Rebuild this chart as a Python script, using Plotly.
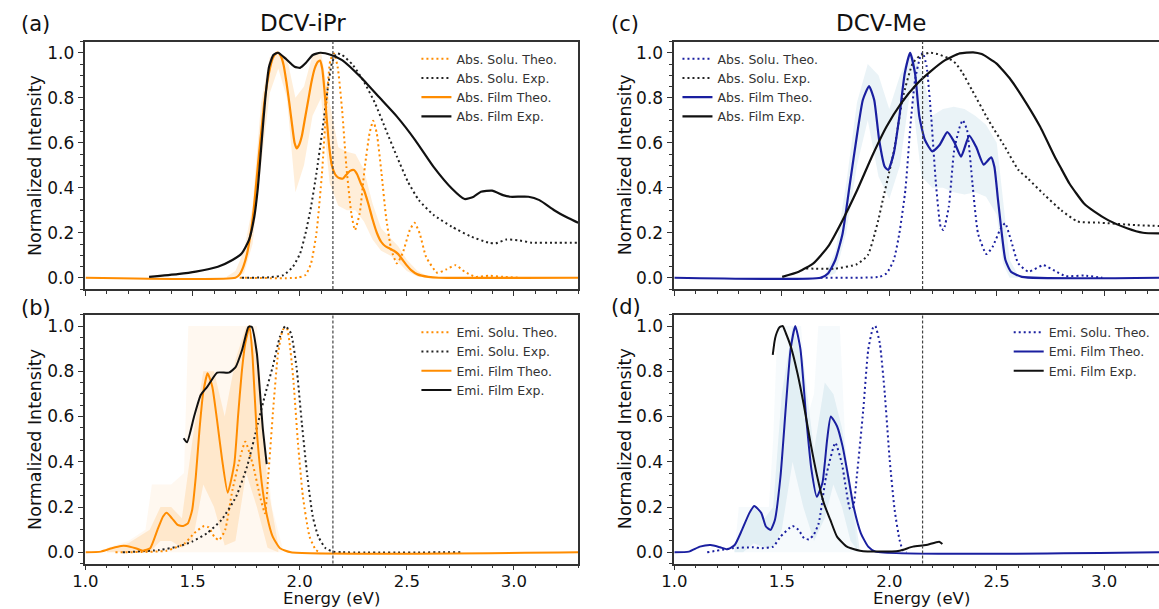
import plotly.graph_objects as go

W, H = 1159, 609
ORANGE = "#ff8c00"
BLUE = "#1a1fa0"
BLACK = "#111111"
FONT = "DejaVu Sans"

# ---------------- DCV-iPr : absorption (a) ----------------
a_solu_theo_x = [1.72, 1.99, 2.027, 2.053, 2.078, 2.104, 2.126, 2.143, 2.16, 2.177, 2.198, 2.218, 2.241, 2.258,
                 2.28, 2.304, 2.326, 2.343, 2.36, 2.382, 2.403, 2.428, 2.454, 2.48, 2.514, 2.536, 2.56, 2.59,
                 2.642, 2.684, 2.727, 2.77, 2.821, 2.881, 2.949, 3.02]
a_solu_theo_y = [0.0, 0.0, 0.012, 0.064, 0.197, 0.464, 0.79, 0.967, 0.997, 0.938, 0.745, 0.493, 0.286, 0.212,
                 0.286, 0.493, 0.641, 0.698, 0.641, 0.464, 0.271, 0.123, 0.064, 0.108, 0.212, 0.244, 0.197, 0.093,
                 0.022, 0.037, 0.056, 0.027, 0.004, 0.009, 0.004, 0.0]

a_solu_exp_x = [1.73, 1.857, 1.925, 1.968, 2.002, 2.027, 2.053, 2.078, 2.104, 2.13, 2.15, 2.172, 2.198, 2.249,
                2.3, 2.352, 2.403, 2.454, 2.505, 2.556, 2.625, 2.71, 2.795, 2.881, 2.915, 2.966, 3.017, 3.085,
                3.188, 3.3]
a_solu_exp_y = [0.0, 0.002, 0.012, 0.049, 0.108, 0.197, 0.316, 0.464, 0.641, 0.834, 0.953, 0.997, 0.99, 0.945,
                0.871, 0.775, 0.656, 0.538, 0.427, 0.345, 0.279, 0.227, 0.185, 0.156, 0.153, 0.17, 0.167, 0.156,
                0.156, 0.156]

a_film_theo_x = [1.0, 1.70, 1.72, 1.737, 1.755, 1.771, 1.785, 1.797, 1.81, 1.823, 1.835, 1.848, 1.861, 1.874,
                 1.887, 1.899, 1.912, 1.925, 1.938, 1.951, 1.963, 1.976, 1.986, 1.997, 2.01, 2.025, 2.04, 2.055,
                 2.07, 2.085, 2.095, 2.105, 2.115, 2.125, 2.138, 2.15, 2.165, 2.18, 2.2, 2.215, 2.235, 2.253,
                 2.268, 2.285, 2.3, 2.32, 2.34, 2.36, 2.38, 2.4, 2.42, 2.44, 2.46, 2.48, 2.5, 2.52, 2.55, 2.6,
                 2.65, 3.3]
a_film_theo_y = [0.0, 0.0, 0.015, 0.049, 0.11, 0.197, 0.3, 0.419, 0.55, 0.671, 0.78, 0.864, 0.93, 0.975,
                 0.995, 1.0, 0.985, 0.945, 0.87, 0.78, 0.69, 0.6, 0.575, 0.59, 0.63, 0.71, 0.79, 0.87,
                 0.93, 0.96, 0.965, 0.93, 0.84, 0.72, 0.58, 0.5, 0.46, 0.445, 0.44, 0.455, 0.475, 0.479,
                 0.46, 0.42, 0.39, 0.33, 0.26, 0.2, 0.16, 0.14, 0.13, 0.12, 0.105, 0.08, 0.055, 0.034, 0.015, 0.004,
                 0.0, 0.0]

a_film_exp_x = [1.297, 1.43, 1.515, 1.618, 1.686, 1.729, 1.763, 1.788, 1.805, 1.823, 1.84, 1.857, 1.877, 1.899,
                1.933, 1.976, 2.002, 2.027, 2.061, 2.096, 2.147, 2.198, 2.283, 2.369, 2.454, 2.539, 2.625, 2.71,
                2.77, 2.812, 2.846, 2.898, 2.949, 2.983, 3.068, 3.119, 3.188, 3.256, 3.3]
a_film_exp_y = [0.004, 0.016, 0.027, 0.049, 0.079, 0.108, 0.167, 0.271, 0.404, 0.612, 0.804, 0.938, 0.99, 1.0,
                0.975, 0.938, 0.933, 0.953, 0.99, 1.0, 0.99, 0.967, 0.893, 0.804, 0.716, 0.612, 0.493, 0.397,
                0.35, 0.36, 0.382, 0.387, 0.367, 0.36, 0.36, 0.345, 0.3, 0.264, 0.244]

# spread of the film ensemble (a)
a_band_x = [1.66, 1.70, 1.74, 1.78, 1.82, 1.86, 1.90, 1.94, 1.98, 2.02, 2.06, 2.10, 2.14, 2.18, 2.22, 2.26,
            2.30, 2.34, 2.38, 2.42, 2.46, 2.50, 2.55, 2.60]
a_band_lo = [0.0, 0.0, 0.02, 0.15, 0.5, 0.82, 0.93, 0.8, 0.38, 0.5, 0.72, 0.8, 0.42, 0.32, 0.3, 0.3,
             0.25, 0.17, 0.12, 0.1, 0.07, 0.03, 0.005, 0.0]
a_band_hi = [0.005, 0.03, 0.12, 0.32, 0.78, 0.98, 1.0, 0.98, 0.8, 0.85, 0.99, 1.0, 0.78, 0.58, 0.56, 0.55,
             0.48, 0.33, 0.22, 0.18, 0.14, 0.08, 0.03, 0.005]

# ---------------- DCV-iPr : emission (b) ----------------
b_solu_theo_x = [1.14, 1.379, 1.464, 1.507, 1.554, 1.575, 1.601, 1.623, 1.652, 1.686, 1.723, 1.746, 1.784, 1.815,
                 1.838, 1.853, 1.876, 1.899, 1.922, 1.94, 1.969, 1.992, 2.015, 2.046, 2.076, 2.095]
b_solu_theo_y = [0.0, 0.007, 0.04, 0.084, 0.116, 0.11, 0.069, 0.054, 0.099, 0.275, 0.423, 0.489, 0.378, 0.246,
                 0.172, 0.334, 0.629, 0.879, 0.985, 0.99, 0.776, 0.481, 0.246, 0.069, 0.01, 0.0]

b_solu_exp_x = [1.174, 1.345, 1.43, 1.498, 1.567, 1.635, 1.703, 1.754, 1.805, 1.84, 1.874, 1.908, 1.933, 1.959,
                1.985, 2.01, 2.036, 2.061, 2.087, 2.121, 2.155, 2.2, 2.76]
b_solu_exp_y = [0.0, 0.01, 0.025, 0.047, 0.084, 0.143, 0.246, 0.378, 0.57, 0.702, 0.82, 0.953, 1.0, 0.968,
                0.82, 0.57, 0.334, 0.158, 0.069, 0.018, 0.003, 0.0, 0.0]

b_film_theo_x = [1.0, 1.072, 1.123, 1.166, 1.191, 1.234, 1.268, 1.302, 1.336, 1.362, 1.379, 1.404, 1.43, 1.456,
                 1.478, 1.498, 1.515, 1.532, 1.549, 1.57, 1.592, 1.614, 1.638, 1.664, 1.695, 1.712, 1.729, 1.746,
                 1.766, 1.78, 1.797, 1.823, 1.848, 1.874, 1.908, 1.959, 3.3]
b_film_theo_y = [0.0, 0.003, 0.018, 0.028, 0.028, 0.018, 0.007, 0.018, 0.099, 0.158, 0.175, 0.15, 0.121, 0.116,
                 0.128, 0.187, 0.334, 0.54, 0.702, 0.791, 0.732, 0.585, 0.408, 0.263, 0.393, 0.599, 0.791, 0.923,
                 1.0, 0.865, 0.57, 0.305, 0.158, 0.069, 0.018, 0.0, 0.0]

b_film_exp_x = [1.458, 1.474, 1.507, 1.538, 1.569, 1.615, 1.669, 1.7, 1.731, 1.761, 1.776, 1.8, 1.815, 1.827,
                1.846]
b_film_exp_y = [0.504, 0.486, 0.6, 0.695, 0.732, 0.794, 0.794, 0.817, 0.894, 0.997, 0.997, 0.879, 0.703, 0.555,
                0.39]

b_outer_x = [1.10, 1.20, 1.28, 1.31, 1.40, 1.46, 1.48, 1.55, 1.65, 1.75, 1.80, 1.83, 1.87, 1.92]
b_outer_lo = [0.0] * 14
b_outer_hi = [0.02, 0.05, 0.1, 0.3, 0.3, 0.35, 1.0, 1.0, 1.0, 1.0, 1.0, 0.6, 0.2, 0.02]
b_inner_x = [1.10, 1.20, 1.30, 1.35, 1.40, 1.45, 1.50, 1.55, 1.60, 1.65, 1.70, 1.75, 1.80, 1.85, 1.90]
b_inner_lo = [0.0, 0.0, 0.0, 0.05, 0.05, 0.02, 0.05, 0.3, 0.2, 0.03, 0.05, 0.35, 0.2, 0.02, 0.0]
b_inner_hi = [0.01, 0.04, 0.1, 0.2, 0.2, 0.15, 0.5, 0.8, 0.8, 0.6, 0.85, 1.0, 0.9, 0.3, 0.03]

# ---------------- DCV-Me : absorption (c) ----------------
c_solu_theo_x = [1.68, 1.953, 1.987, 2.021, 2.047, 2.075, 2.098, 2.12, 2.144, 2.156, 2.174, 2.195, 2.217, 2.239,
                 2.252, 2.277, 2.302, 2.328, 2.342, 2.362, 2.387, 2.413, 2.452, 2.481, 2.515, 2.539, 2.566, 2.6,
                 2.648, 2.717, 2.77, 2.821, 2.906, 2.991]
c_solu_theo_y = [0.0, 0.004, 0.019, 0.079, 0.197, 0.39, 0.671, 0.88, 0.982, 1.0, 0.938, 0.716, 0.419, 0.227,
                 0.212, 0.316, 0.567, 0.671, 0.7, 0.656, 0.419, 0.197, 0.105, 0.138, 0.212, 0.242, 0.167, 0.064,
                 0.027, 0.056, 0.031, 0.007, 0.01, 0.0]

c_solu_exp_x = [1.613, 1.749, 1.849, 1.9, 1.925, 1.95, 1.971, 2.0, 2.025, 2.063, 2.109, 2.14, 2.187, 2.226,
                2.277, 2.309, 2.34, 2.385, 2.462, 2.539, 2.6, 2.646, 2.72, 2.8, 2.876, 2.974, 3.145, 3.255]
c_solu_exp_y = [0.041, 0.041, 0.06, 0.1, 0.17, 0.26, 0.35, 0.47, 0.58, 0.8, 0.953, 0.985, 1.0, 0.994,
                0.975, 0.953, 0.912, 0.834, 0.7, 0.58, 0.48, 0.44, 0.37, 0.3, 0.25, 0.245, 0.234, 0.23]

c_film_theo_x = [1.0, 1.681, 1.715, 1.749, 1.783, 1.817, 1.851, 1.877, 1.906, 1.93, 1.953, 1.979, 1.995, 2.021,
                 2.047, 2.072, 2.097, 2.12, 2.14, 2.166, 2.2, 2.234, 2.27, 2.302, 2.334, 2.372, 2.404, 2.439,
                 2.474, 2.489, 2.506, 2.523, 2.54, 2.566, 2.617, 3.255]
c_film_theo_y = [0.0, 0.0, 0.019, 0.079, 0.197, 0.419, 0.641, 0.79, 0.852, 0.79, 0.612, 0.493, 0.479, 0.553,
                 0.716, 0.908, 1.0, 0.908, 0.716, 0.612, 0.562, 0.59, 0.647, 0.604, 0.538, 0.632, 0.582, 0.503,
                 0.535, 0.493, 0.345, 0.2, 0.08, 0.027, 0.004, 0.0]

c_film_exp_x = [1.502, 1.579, 1.647, 1.715, 1.783, 1.851, 1.919, 1.987, 2.055, 2.123, 2.191, 2.26, 2.328, 2.39,
                2.43, 2.498, 2.566, 2.64, 2.702, 2.77, 2.8, 2.838, 2.906, 2.953, 3.02, 3.106, 3.18, 3.255]
c_film_exp_y = [0.004, 0.027, 0.064, 0.138, 0.256, 0.39, 0.538, 0.671, 0.775, 0.856, 0.916, 0.967, 0.997, 1.002,
                0.994, 0.953, 0.879, 0.772, 0.671, 0.538, 0.485, 0.419, 0.33, 0.295, 0.255, 0.22, 0.2, 0.197]

c_band_x = [1.70, 1.75, 1.80, 1.85, 1.90, 1.95, 2.00, 2.05, 2.10, 2.15, 2.20, 2.25, 2.30, 2.35, 2.40, 2.45,
            2.50, 2.53, 2.56, 2.60]
c_band_lo = [0.0, 0.02, 0.2, 0.5, 0.7, 0.45, 0.35, 0.5, 0.85, 0.45, 0.4, 0.4, 0.38, 0.37, 0.38, 0.36,
             0.28, 0.06, 0.0, 0.0]
c_band_hi = [0.01, 0.12, 0.42, 0.78, 0.95, 0.9, 0.75, 0.9, 1.0, 0.92, 0.72, 0.75, 0.76, 0.75, 0.72, 0.68,
             0.6, 0.35, 0.08, 0.01]

# ---------------- DCV-Me : emission (d) ----------------
d_solu_theo_x = [1.153, 1.272, 1.366, 1.408, 1.46, 1.494, 1.55, 1.578, 1.604, 1.627, 1.65, 1.672, 1.706, 1.749,
                 1.78, 1.818, 1.832, 1.849, 1.879, 1.902, 1.925, 1.935, 1.956, 1.979, 2.002, 2.025, 2.048, 2.063,
                 2.08]
d_solu_theo_y = [0.0, 0.018, 0.022, 0.018, 0.025, 0.069, 0.116, 0.099, 0.062, 0.057, 0.08, 0.129, 0.335, 0.484,
                 0.39, 0.19, 0.2, 0.334, 0.629, 0.894, 0.994, 1.0, 0.923, 0.703, 0.408, 0.187, 0.054, 0.01, 0.0]

d_film_theo_x = [1.0, 1.068, 1.119, 1.17, 1.213, 1.247, 1.281, 1.315, 1.349, 1.372, 1.405, 1.426, 1.448, 1.468,
                 1.494, 1.519, 1.541, 1.563, 1.587, 1.613, 1.638, 1.663, 1.689, 1.711, 1.728, 1.757, 1.783, 1.809,
                 1.834, 1.868, 1.902, 1.936, 3.255]
d_film_theo_y = [0.0, 0.003, 0.025, 0.032, 0.022, 0.013, 0.032, 0.099, 0.173, 0.205, 0.173, 0.114, 0.099, 0.143,
                 0.335, 0.645, 0.897, 1.0, 0.897, 0.601, 0.365, 0.245, 0.306, 0.498, 0.6, 0.557, 0.468, 0.335,
                 0.202, 0.084, 0.025, 0.003, 0.0]

d_film_exp_x = [1.458, 1.466, 1.473, 1.489, 1.504, 1.519, 1.542, 1.573, 1.604, 1.634, 1.665, 1.696, 1.726, 1.757,
                1.803, 1.864, 1.956, 2.048, 2.11, 2.171, 2.232, 2.247]
d_film_exp_y = [0.872, 0.93, 0.96, 0.994, 1.0, 0.968, 0.909, 0.791, 0.643, 0.482, 0.334, 0.216, 0.143, 0.069,
                0.025, 0.007, 0.003, 0.007, 0.025, 0.032, 0.047, 0.037]

d_outer_x = [1.28, 1.30, 1.44, 1.46, 1.48, 1.59, 1.62, 1.65, 1.67, 1.77, 1.80, 1.85]
d_outer_lo = [0.0] * 12
d_outer_hi = [0.0, 0.2, 0.2, 0.5, 1.0, 1.0, 0.6, 0.7, 1.0, 1.0, 0.4, 0.03]
d_inner_x = [1.28, 1.32, 1.37, 1.42, 1.46, 1.50, 1.55, 1.60, 1.65, 1.70, 1.74, 1.78, 1.82, 1.86]
d_inner_lo = [0.0, 0.0, 0.04, 0.02, 0.02, 0.1, 0.4, 0.2, 0.05, 0.15, 0.3, 0.2, 0.05, 0.0]
d_inner_hi = [0.02, 0.12, 0.2, 0.15, 0.2, 0.7, 1.0, 0.85, 0.45, 0.75, 0.7, 0.55, 0.3, 0.03]

SEP_X = 2.155  # vertical reference line (eV)

# ---------------- layout geometry (pixels) ----------------
LEFT_X0, LEFT_X1 = 73.3, 571.6
RIGHT_X0 = 668.8
TOP_Y0, TOP_Y1 = 41.5, 289.0
BOT_Y0, BOT_Y1 = 314.7, 563.6


def px_x(p):
    return p / W


def px_y(p):
    return 1 - p / H


fig = go.Figure()


def add_line(x, y, color, dash, width, name, xa, ya, legend):
    fig.add_trace(go.Scatter(
        x=x, y=y, mode="lines", name=name, xaxis=xa, yaxis=ya, legend=legend,
        line=dict(color=color, width=width, dash=dash, shape="spline", smoothing=0.5),
    ))


def add_band(x, lo, hi, rgba, xa, ya):
    fig.add_trace(go.Scatter(x=x, y=lo, mode="lines", line=dict(width=0),
                             xaxis=xa, yaxis=ya, showlegend=False, hoverinfo="skip"))
    fig.add_trace(go.Scatter(x=x, y=hi, mode="lines", line=dict(width=0),
                             fill="tonexty", fillcolor=rgba, xaxis=xa, yaxis=ya,
                             showlegend=False, hoverinfo="skip"))


DOT = "2px,3px"

# (a)
add_band(a_band_x, a_band_lo, a_band_hi, "rgba(255,150,20,0.16)", "x", "y")
add_line(a_solu_theo_x, a_solu_theo_y, ORANGE, DOT, 2, "Abs. Solu. Theo.", "x", "y", "legend")
add_line(a_solu_exp_x, a_solu_exp_y, "#222222", DOT, 2, "Abs. Solu. Exp.", "x", "y", "legend")
add_line(a_film_theo_x, a_film_theo_y, ORANGE, "solid", 2.2, "Abs. Film Theo.", "x", "y", "legend")
add_line(a_film_exp_x, a_film_exp_y, BLACK, "solid", 2.2, "Abs. Film Exp.", "x", "y", "legend")

# (b)
add_band(b_outer_x, b_outer_lo, b_outer_hi, "rgba(255,160,40,0.07)", "x2", "y2")
add_band(b_inner_x, b_inner_lo, b_inner_hi, "rgba(255,150,20,0.16)", "x2", "y2")
add_line(b_solu_theo_x, b_solu_theo_y, ORANGE, DOT, 2, "Emi. Solu. Theo.", "x2", "y2", "legend2")
add_line(b_solu_exp_x, b_solu_exp_y, "#222222", DOT, 2, "Emi. Solu. Exp.", "x2", "y2", "legend2")
add_line(b_film_theo_x, b_film_theo_y, ORANGE, "solid", 2, "Emi. Film Theo.", "x2", "y2", "legend2")
add_line(b_film_exp_x, b_film_exp_y, BLACK, "solid", 2, "Emi. Film Exp.", "x2", "y2", "legend2")

# (c)
add_band(c_band_x, c_band_lo, c_band_hi, "rgba(150,195,215,0.20)", "x3", "y3")
add_line(c_solu_theo_x, c_solu_theo_y, BLUE, DOT, 2, "Abs. Solu. Theo.", "x3", "y3", "legend3")
add_line(c_solu_exp_x, c_solu_exp_y, "#222222", DOT, 2, "Abs. Solu. Exp.", "x3", "y3", "legend3")
add_line(c_film_theo_x, c_film_theo_y, BLUE, "solid", 2.2, "Abs. Film Theo.", "x3", "y3", "legend3")
add_line(c_film_exp_x, c_film_exp_y, BLACK, "solid", 2.2, "Abs. Film Exp.", "x3", "y3", "legend3")

# (d)
add_band(d_outer_x, d_outer_lo, d_outer_hi, "rgba(160,200,220,0.09)", "x4", "y4")
add_band(d_inner_x, d_inner_lo, d_inner_hi, "rgba(150,195,215,0.20)", "x4", "y4")
add_line(d_solu_theo_x, d_solu_theo_y, BLUE, DOT, 2, "Emi. Solu. Theo.", "x4", "y4", "legend4")
add_line(d_film_theo_x, d_film_theo_y, BLUE, "solid", 2, "Emi. Film Theo.", "x4", "y4", "legend4")
add_line(d_film_exp_x, d_film_exp_y, BLACK, "solid", 2, "Emi. Film Exp.", "x4", "y4", "legend4")

AX_COLOR = "#333333"
TICK_FONT = dict(family=FONT, size=16.5, color="#111111")


def xaxis(domain, rng, labels, mirror=True):
    return dict(domain=domain, range=rng, showline=True, linecolor=AX_COLOR, linewidth=1.5, mirror=mirror,
                ticks="outside", ticklen=5, tickwidth=1.3, tickcolor=AX_COLOR, ticklabelstandoff=-3,
                tickvals=[1.0, 1.5, 2.0, 2.5, 3.0], ticktext=["1.0", "1.5", "2.0", "2.5", "3.0"],
                showticklabels=labels, tickfont=TICK_FONT, showgrid=False, zeroline=False,
                minor=dict(ticks="outside", ticklen=3, tickwidth=1, tickcolor=AX_COLOR, dtick=0.1, tick0=1.0,
                           showgrid=False))


def yaxis(domain, anchor, mirror=True):
    return dict(domain=domain, range=[-0.05, 1.05], anchor=anchor, showline=True, linecolor=AX_COLOR,
                linewidth=1.5, mirror=mirror, ticks="outside", ticklen=6, tickwidth=1.3, tickcolor=AX_COLOR,
                tickvals=[0, 0.2, 0.4, 0.6, 0.8, 1.0], ticktext=["0.0", "0.2", "0.4", "0.6", "0.8", "1.0"],
                tickfont=dict(family=FONT, size=17, color="#111111"), showgrid=False, zeroline=False,
                minor=dict(ticks="outside", ticklen=3.5, tickwidth=1, tickcolor=AX_COLOR, dtick=0.05, tick0=0,
                           showgrid=False))


left_dom = [px_x(LEFT_X0), px_x(LEFT_X1)]
right_dom = [px_x(RIGHT_X0), 1.0]
top_dom = [px_y(TOP_Y1), px_y(TOP_Y0)]
bot_dom = [px_y(BOT_Y1), px_y(BOT_Y0)]
right_max = 1.0 + (W - RIGHT_X0) / 217.4

legend_common = dict(bgcolor="rgba(0,0,0,0)", borderwidth=0, font=dict(family=FONT, size=12.5, color="#333333"),
                     tracegroupgap=0, itemwidth=30, xanchor="left", yanchor="top", traceorder="normal")

fig.update_layout(
    width=W, height=H, autosize=False, margin=dict(l=0, r=0, t=0, b=0),
    paper_bgcolor="white", plot_bgcolor="white",
    font=dict(family=FONT, color="#111111"),
    xaxis=xaxis(left_dom, [1.0, 3.3], False),
    yaxis=yaxis(top_dom, "x"),
    xaxis2=xaxis(left_dom, [1.0, 3.3], True),
    yaxis2=yaxis(bot_dom, "x2"),
    xaxis3=xaxis(right_dom, [1.0, right_max], False),
    yaxis3=yaxis(top_dom, "x3", mirror=False),
    xaxis4=xaxis(right_dom, [1.0, right_max], True),
    yaxis4=yaxis(bot_dom, "x4", mirror=False),
    legend=dict(legend_common, x=px_x(408), y=px_y(44)),
    legend2=dict(legend_common, x=px_x(408), y=px_y(317.5)),
    legend3=dict(legend_common, x=px_x(672), y=px_y(44)),
    legend4=dict(legend_common, x=px_x(1007), y=px_y(317.5)),
)
fig.update_layout(xaxis=dict(anchor="y"), xaxis2=dict(anchor="y2"), xaxis3=dict(anchor="y3"),
                  xaxis4=dict(anchor="y4"))

# vertical reference line in each panel
for xa, ya in [("x", "y"), ("x2", "y2"), ("x3", "y3"), ("x4", "y4")]:
    fig.add_shape(type="line", xref=xa, yref=f"{ya} domain", x0=SEP_X, x1=SEP_X, y0=0, y1=1,
                  line=dict(color="#444444", width=1.2, dash="3px,2px"), layer="above")

ann = []


def text(x, y, s, size, xanchor="center", angle=0, yanchor="middle", pad=1):
    ann.append(dict(x=px_x(x), y=px_y(y), xref="paper", yref="paper", text=s, showarrow=False,
                    xanchor=xanchor, yanchor=yanchor, textangle=angle, borderpad=pad,
                    font=dict(family=FONT, size=size, color="#111111")))


text(6, 24, "(a)", 21, "left")
text(6, 308, "(b)", 21, "left")
text(603, 24, "(c)", 21, "left")
text(603, 307, "(d)", 21, "left")
text(293.5, 23, "DCV-iPr", 23)
text(878, 23, "DCV-Me", 23)
text(22, (TOP_Y0 + TOP_Y1) / 2, "Normalized Intensity", 17.5, angle=-90)
text(22, (BOT_Y0 + BOT_Y1) / 2, "Normalized Intensity", 17.5, angle=-90)
text(619, (TOP_Y0 + TOP_Y1) / 2, "Normalized Intensity", 17.5, angle=-90)
text(619, (BOT_Y0 + BOT_Y1) / 2, "Normalized Intensity", 17.5, angle=-90)
text(322, 609, "Energy (eV)", 16.5, yanchor="bottom", pad=0)
text(918.5, 609, "Energy (eV)", 16.5, yanchor="bottom", pad=0)
fig.update_layout(annotations=ann)

fig.write_html("out.html")
